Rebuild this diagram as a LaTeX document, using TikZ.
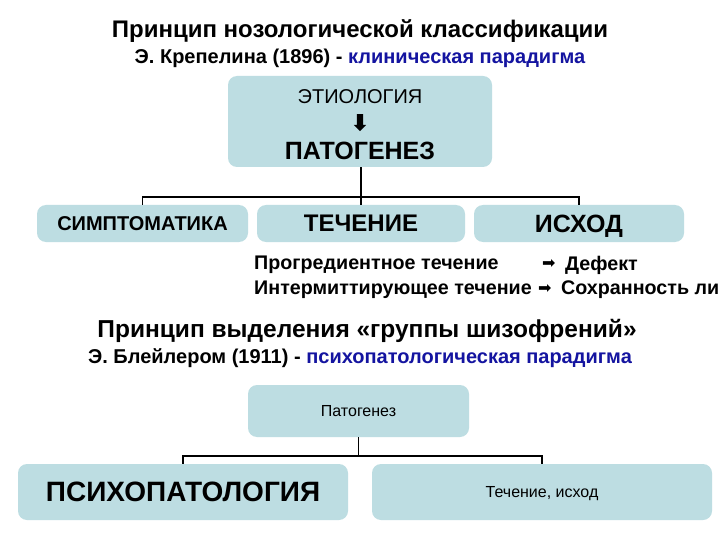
\documentclass[tikz,border=0pt]{standalone}
\usepackage{fontspec}
\setmainfont{Liberation Sans}
\newfontfamily\symfont{DejaVu Sans}
\usetikzlibrary{shapes.arrows}
\definecolor{boxfill}{RGB}{189,221,226}
\definecolor{darkblue}{RGB}{20,20,160}
\begin{document}
\begin{tikzpicture}[x=1pt,y=-1pt,
  box/.style={fill=boxfill, rounded corners=9pt, inner sep=0pt, draw=none, text depth=0pt},
  conn/.style={draw=black, line width=1.8pt},
  txt/.style={inner sep=0pt}]
\useasboundingbox (0,0) rectangle (720,540);
\clip (0,0) rectangle (720,540);
\fill[white] (0,0) rectangle (720,540);

% first title
\node[txt] (t1) at (360,31) {\fontsize{24}{28}\selectfont\bfseries Принцип нозологической классификации};
\node[txt] (t2) at (360,58) {\fontsize{20}{23}\selectfont\bfseries Э. Крепелина (1896) - \textcolor{darkblue}{клиническая парадигма}};

% top box
\node[box, minimum width=264pt, minimum height=91pt] (top) at (360,121.5) {};
\node[txt] (etio) at (360,97) {\fontsize{20}{22}\selectfont ЭТИОЛОГИЯ};
\node[single arrow, fill=black, rotate=-90, minimum height=17pt, inner sep=3pt,
      single arrow head extend=3pt, single arrow head indent=0pt] (darr) at (360,121) {};
\node[txt] (pato) at (360,151) {\fontsize{25}{28}\selectfont\bfseries ПАТОГЕНЕЗ};

% row boxes
\node[box, minimum width=211pt, minimum height=37pt, font=\fontsize{20}{22}\selectfont\bfseries] (symp) at (142.5,223.5) {СИМПТОМАТИКА};
\node[box, minimum width=208pt, minimum height=37pt, font=\fontsize{24}{27}\selectfont\bfseries] (tech) at (361,223.5) {ТЕЧЕНИЕ};
\node[box, minimum width=210pt, minimum height=37pt, font=\fontsize{25}{28}\selectfont\bfseries] (ishod) at (579,223.5) {ИСХОД};

\coordinate (hbar) at (361,197);
\draw[conn] (top.south -| tech.north) -- (tech.north);
\draw[conn] (symp.north) |- (hbar) -| (ishod.north);

% course lines
\node[txt, anchor=west] (l1) at (254,265) {\fontsize{19.7}{22}\selectfont\bfseries Прогредиентное течение};
\node[txt, anchor=west] (a1) at (542,264) {\symfont\fontsize{16}{18}\selectfont ➡};
\node[txt, anchor=west] (r1) at (565,265) {\fontsize{19.7}{22}\selectfont\bfseries Дефект};
\node[txt, anchor=west] (l2) at (254,290) {\fontsize{19.7}{22}\selectfont\bfseries Интермиттирующее течение};
\node[txt, anchor=west] (a2) at (538,289) {\symfont\fontsize{16}{18}\selectfont ➡};
\node[txt, anchor=west] (r2) at (561,290) {\fontsize{19.7}{22}\selectfont\bfseries Сохранность личности};

% second title
\node[txt] (t3) at (367,331) {\fontsize{24.5}{28}\selectfont\bfseries Принцип выделения «группы шизофрений»};
\node[txt] (t4) at (360,358) {\fontsize{20}{23}\selectfont\bfseries Э. Блейлером (1911) - \textcolor{darkblue}{психопатологическая парадигма}};

% bottom boxes
\node[box, minimum width=221pt, minimum height=52pt, font=\fontsize{16}{18}\selectfont] (pat) at (358.5,411) {Патогенез};
\node[box, minimum width=330pt, minimum height=56pt, font=\fontsize{28}{31}\selectfont\bfseries] (psy) at (183,492) {ПСИХОПАТОЛОГИЯ};
\node[box, minimum width=340pt, minimum height=56pt, font=\fontsize{16}{18}\selectfont] (tex) at (542,492) {Течение, исход};

\coordinate (hbar2) at (358.5,456);
\draw[conn] (pat.south) -- (hbar2);
\draw[conn] (psy.north) |- (hbar2) -| (tex.north);
\end{tikzpicture}
\end{document}
